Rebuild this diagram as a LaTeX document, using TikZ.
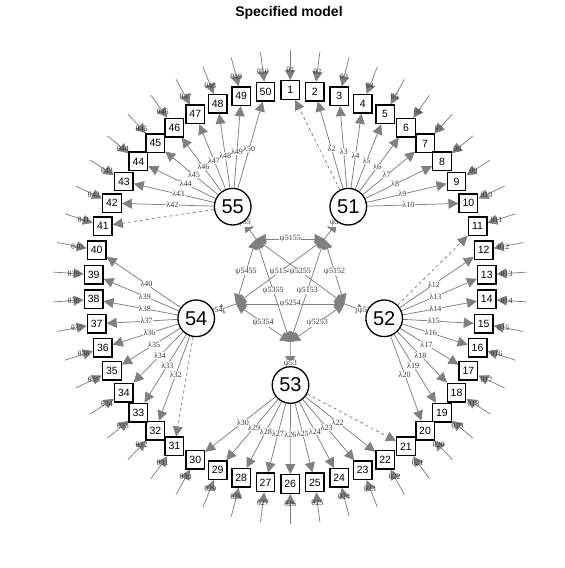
\documentclass[tikz,border=0pt]{standalone}
\usepackage{fontspec}
\setmainfont{Liberation Sans}
\newfontfamily\grk{Liberation Serif}
\usetikzlibrary{arrows.meta}
\definecolor{edgegray}{RGB}{128,128,128}
\definecolor{labgray}{RGB}{55,55,55}
\pgfdeclarelayer{bglayer}
\pgfdeclarelayer{edgelayer}
\pgfsetlayers{bglayer,edgelayer,main}
\tikzset{
 obs/.style={draw, line width=1.4pt, fill=white, minimum size=18.5pt, inner sep=0pt, font=\fontsize{10.5}{10.5}\selectfont},
 lat/.style={circle, draw, line width=1.3pt, fill=white, minimum size=36.6pt, inner sep=0pt, font=\fontsize{20}{20}\selectfont},
 ldg/.style={edgegray, line width=0.75pt, -{Triangle[length=10pt,width=10pt]}},
 fixload/.style={ldg, dash pattern=on 3pt off 3pt},
 covar/.style={edgegray, line width=0.75pt, {Triangle[length=10pt,width=10pt]}-{Triangle[length=10pt,width=10pt]}},
 elab/.style={font=\grk\fontsize{8}{8}\selectfont, text=labgray, fill=white, inner sep=0.4pt},
 tlab/.style={font=\grk\fontsize{8}{8}\selectfont, text=labgray, inner sep=0pt},
}
\begin{document}
\begin{tikzpicture}[x=1pt,y=-1pt]
\begin{pgfonlayer}{bglayer}
\fill[white] (0,0) rectangle (565,568);
\end{pgfonlayer}
\useasboundingbox (0,0) rectangle (565,568);
\node[font=\bfseries\fontsize{14}{14}\selectfont] (title) at (289,13) {Specified model};
% observed indicators
\foreach \n in {1,...,50} {
  \pgfmathsetmacro{\ang}{90-(\n-1)*7.2}
  \node[obs] (b\n) at ({290.2+197*cos(\ang)},{287-197*sin(\ang)}) {\n};
  \coordinate (r\n) at ({290.2+237*cos(\ang)},{287-237*sin(\ang)});
}
% latent variables
\node[lat] (L51) at (348.3,206.7) {51};
\node[lat] (L52) at (384.2,318.3) {52};
\node[lat] (L53) at (290.5,385) {53};
\node[lat] (L54) at (196.2,318.3) {54};
\node[lat] (L55) at (232.7,206.7) {55};
% inner residual points
\coordinate (A55) at (256,239);
\coordinate (A51) at (324.5,239);
\coordinate (A54) at (236,304);
\coordinate (A52) at (344.5,304);
\coordinate (A53) at (290.2,342);
\begin{pgfonlayer}{edgelayer}
% loadings
\foreach \lv/\fst in {51/1,52/11,53/21,54/31,55/41} {
  \draw[fixload] (L\lv) -- (b\fst);
  \foreach \j in {1,...,9} {
    \pgfmathtruncatemacro{\n}{\fst+\j}
    \draw[ldg] (L\lv) -- (b\n);
  }
}
\foreach \lv/\fst in {51/1,52/11,53/21,54/31,55/41} {
  \foreach \j in {1,...,9} {
    \pgfmathtruncatemacro{\n}{\fst+\j}
    \path (L\lv.center) -- (b\n.center) node[pos=0.5, elab] (lam\n) {λ\n};
  }
}
% residuals of indicators
\foreach \n in {1,...,50} {
  \draw[ldg] (r\n) -- (b\n);
  \path (r\n) -- (b\n.center) node[pos=0.5, tlab] (th\n) {θ\n};
}
% latent residuals
\foreach \lv in {51,52,53,54,55} {
  \draw[ldg] (A\lv) -- (L\lv);
  \path (A\lv) -- (L\lv.center) node[pos=0.5, elab] (ps\lv) {ψ\lv};
}
% covariances
\foreach \a/\b in {51/52,51/53,51/54,51/55,52/53,52/54,52/55,53/54,53/55,54/55} {
  \draw[covar] (A\a) -- (A\b);
}
\foreach \a/\b in {51/52,51/53,51/54,51/55,52/53,52/54,52/55,53/54,53/55,54/55} {
  \path (A\a) -- (A\b) node[pos=0.5, elab] (cv\a\b) {ψ\a\b};
}
\end{pgfonlayer}
\end{tikzpicture}
\end{document}
